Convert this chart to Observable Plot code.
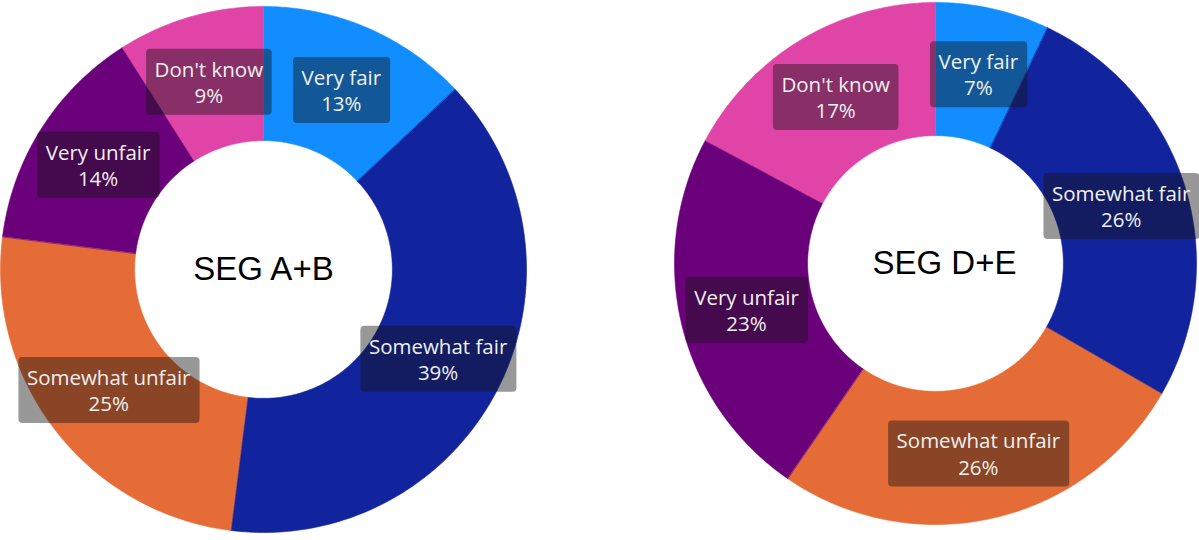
<!DOCTYPE html>
<html><head><meta charset="utf-8">
<script src="https://cdn.jsdelivr.net/npm/d3@7"></script>
<script src="https://cdn.jsdelivr.net/npm/@observablehq/plot@0.6"></script>
<style>
body{margin:0;background:#fff;}
#wrap{position:relative;width:1199px;height:540px;overflow:hidden;}
#wrap > svg{position:absolute;top:0;}
</style></head><body><div id="wrap"></div>
<script>
const categories = ["Very fair", "Somewhat fair", "Somewhat unfair", "Very unfair", "Don't know"];
const segments = ["SEG A+B", "SEG D+E"];
const valuesAB = [13, 39, 25, 14, 9];
const valuesDE = [7, 26, 26, 23, 17];
const palette = ["#118DFF", "#12239E", "#E66C37", "#6B007B", "#E044A7"];

const INNER = 0.49;
function build(values) {
  const total = d3.sum(values);
  let cum = 0;
  const pts = [], labels = [];
  values.forEach((v, i) => {
    const a0 = cum / total * 2 * Math.PI; cum += v;
    const a1 = cum / total * 2 * Math.PI;
    const n = Math.max(2, Math.ceil((a1 - a0) / (Math.PI / 180)));
    for (let k = 0; k <= n; k++) { const a = a0 + (a1 - a0) * k / n; pts.push({cat: categories[i], x: Math.sin(a), y: Math.cos(a)}); }
    for (let k = n; k >= 0; k--) { const a = a0 + (a1 - a0) * k / n; pts.push({cat: categories[i], x: INNER * Math.sin(a), y: INNER * Math.cos(a)}); }
    const m = (a0 + a1) / 2, lr = (1 + INNER) / 2;
    labels.push({cat: categories[i], value: v, x: lr * Math.sin(m), y: lr * Math.cos(m)});
  });
  return {pts, labels};
}

function donut(values, title, m, left, titleDx) {
  const {pts, labels} = build(values);
  const svg = Plot.plot({
    width: 530, height: 540,
    marginLeft: m[0], marginRight: m[1], marginTop: m[2], marginBottom: m[3],
    x: {domain: [-1, 1], axis: null},
    y: {domain: [-1, 1], axis: null},
    color: {domain: categories, range: palette},
    style: {background: "transparent", overflow: "visible"},
    marks: [
      Plot.line(pts, {x: "x", y: "y", z: "cat", fill: "cat", stroke: "cat", strokeWidth: 0.6, curve: "linear-closed"}),
      Plot.text([title], {frameAnchor: "middle", text: d => d, dx: titleDx, fontSize: 33, fontFamily: "Liberation Sans, Arial, sans-serif", fill: "#000"}),
      Plot.text(labels, {x: "x", y: "y", text: d => `${d.cat}\n${d.value}%`, fill: "#f0f0f0", fontSize: 20.5, lineHeight: 1.27, fontFamily: "Open Sans, sans-serif"})
    ]
  });
  svg.style.left = left + "px";
  document.getElementById("wrap").appendChild(svg);
  svg.querySelectorAll("text").forEach(t => {
    if (!t.textContent.includes("%")) return;
    const b = t.getBBox();
    const cy = b.y + b.height / 2;
    const r = document.createElementNS("http://www.w3.org/2000/svg", "rect");
    r.setAttribute("x", b.x - 8.5);
    r.setAttribute("y", cy - 33);
    r.setAttribute("width", b.width + 17);
    r.setAttribute("height", 66);
    r.setAttribute("rx", 4);
    r.setAttribute("fill", "rgb(20,20,20)");
    r.setAttribute("fill-opacity", 0.44);
    const tr = t.getAttribute("transform");
    if (tr) r.setAttribute("transform", tr);
    t.parentNode.insertBefore(r, t);
  });
}

donut(valuesAB, segments[0], [0, 4, 6, 8], 0, 0);
donut(valuesDE, segments[1], [5, 3, 2, 16], 669, 9);
</script></body></html>
